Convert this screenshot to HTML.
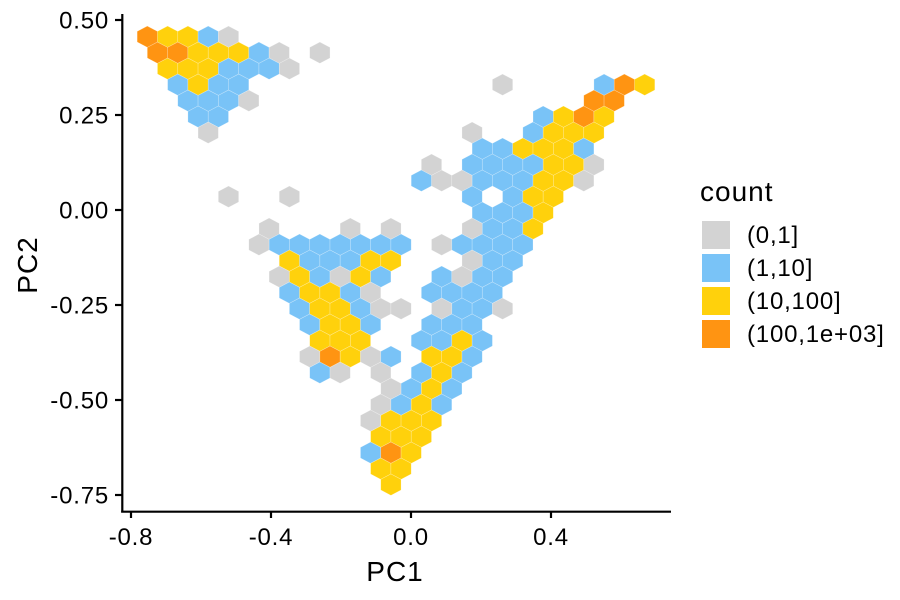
<!DOCTYPE html>
<html><head><meta charset="utf-8"><style>
html,body{margin:0;padding:0;background:#fff;}
svg{display:block;font-family:"Liberation Sans",Arial,sans-serif;}
.tk{letter-spacing:0.8px;}
.tt{letter-spacing:1px;}
</style></head><body>
<svg id="chart" width="900" height="600" viewBox="0 0 900 600">
<g id="hexes"></g>
<g id="axes"></g>
<text class="tt" x="395" y="581" font-size="28" text-anchor="middle" fill="#000">PC1</text>
<text class="tt" x="0" y="0" font-size="28" text-anchor="middle" fill="#000" transform="translate(37,265) rotate(-90)">PC2</text>
<g>
<text class="tt" x="700" y="201" font-size="28" fill="#000">count</text>
<g><rect x="702" y="221" width="28" height="28" fill="#d3d3d3"/><text class="tk" x="747" y="243" font-size="24">(0,1]</text></g>
<g><rect x="702" y="254" width="28" height="28" fill="#79c3f7"/><text class="tk" x="747" y="276" font-size="24">(1,10]</text></g>
<g><rect x="702" y="287" width="28" height="28" fill="#ffd10c"/><text class="tk" x="747" y="309" font-size="24">(10,100]</text></g>
<g><rect x="702" y="320" width="28" height="28" fill="#ff9412"/><text class="tk" x="747" y="342" font-size="24">(100,1e+03]</text></g>
</g>
</svg>
<script>
// hex grid bins: per row, column indices and count bin letters (G=(0,1], B=(1,10], Y=(10,100], O=(100,1e+03])
const hexCols = [
[0,1,2,3,4],[0,1,2,3,4,5,6,8],[1,2,3,4,5,6,7],[1,2,3,4,17,22,23,24],
[2,3,4,5,22,23],[2,3,19,20,21,22],[3,16,19,20,21,22],[16,17,18,19,20,21],
[14,16,17,18,19,20,21,22],[13,14,15,16,17,18,19,20,21],[4,7,16,18,19,20],[16,17,18,19],
[6,10,12,16,17,18,19],[5,6,7,8,9,10,11,12,14,15,16,17,18],[7,8,9,10,11,12,16,17,18],
[6,7,8,9,10,11,14,15,16,17],[7,8,9,10,11,14,15,16,17],[7,8,9,10,11,12,14,15,16,17],
[8,9,10,11,14,15,16],[8,9,10,13,14,15,16],[8,9,10,11,12,14,15,16],[8,9,11,13,14,15],
[12,13,14,15],[11,12,13,14],[11,12,13,14],[11,12,13],[11,12,13],[11,12],[12]
];
const hexBins = [
"OYYBG","OOYYYBGG","YYYBBBG","BYBBGBOY",
"BBBGOO","BBBYOY","GGBYYY","BBYYYB",
"GBBBBYYG","BGGBBBYYG","GGBBYY","BBBY",
"GGGGBBY","GBBBBBBBGBBBB","YBBBYYGBB",
"GYBGYBBGBB","BYYBGBBBB","BYYBGGGBBG",
"BYYBBBB","YYYBBYB","GOYGBYYB","BGGBYB",
"GBYB","GBYB","GYYY","YYY","BOY","YY","Y"
];
const binColors = {G:"#d3d3d3",B:"#79c3f7",Y:"#ffd10c",O:"#ff9412"};
const xTicks = [-0.8,-0.4,0.0,0.4];
const xTickLabels = ["-0.8","-0.4","0.0","0.4"];
const yTicks = [0.5,0.25,0,-0.25,-0.5,-0.75];
const yTickLabels = ["0.50","0.25","0.00","-0.25","-0.50","-0.75"];
// bin grid geometry (data units)
const gridX0 = -0.7534, gridDX = 0.058, gridY0 = 0.456, gridDY = 0.0421;

const xs = v => 411 + v*350;
const ys = v => 210 - v*380;
const NS = "http://www.w3.org/2000/svg";
const hg = document.getElementById('hexes');
const rx = gridDX*350/2, ry = gridDY*380*2/3;
hexCols.forEach((cols, r) => {
  cols.forEach((c, k) => {
    const pc1 = gridX0 + (c + (r % 2) * 0.5) * gridDX;
    const pc2 = gridY0 - r * gridDY;
    const cx = xs(pc1), cy = ys(pc2);
    const pts = [[0,-ry],[rx,-ry/2],[rx,ry/2],[0,ry],[-rx,ry/2],[-rx,-ry/2]]
      .map(p => (cx+p[0]).toFixed(2)+","+(cy+p[1]).toFixed(2)).join(" ");
    const h = document.createElementNS(NS,'polygon');
    h.setAttribute('points', pts);
    h.setAttribute('fill', binColors[hexBins[r][k]]);
    h.setAttribute('stroke', 'rgba(255,255,255,0.35)');
    h.setAttribute('stroke-width', '0.6');
    
    
    hg.appendChild(h);
  });
});
const ag = document.getElementById('axes');
function add(tag, attrs, text){
  const e = document.createElementNS(NS, tag);
  for (const k in attrs) e.setAttribute(k, attrs[k]);
  if (text !== undefined) e.textContent = text;
  ag.appendChild(e); return e;
}
const yl = add('line',{x1:122.3,y1:14,x2:122.3,y2:512.5,stroke:'#000','stroke-width':2.2});


const xl = add('line',{x1:121.2,y1:511.7,x2:671,y2:511.7,stroke:'#000','stroke-width':2.2});


xTicks.forEach((v,i) => {
  const t = add('line',{x1:xs(v),y1:512,x2:xs(v),y2:518,stroke:'#000','stroke-width':2.2});
  
  
  const l = add('text',{x:xs(v),y:545,'font-size':24,'text-anchor':'middle',fill:'#000','class':'tk'}, xTickLabels[i]);
  
  
});
yTicks.forEach((v,i) => {
  const t = add('line',{x1:115,y1:ys(v),x2:122,y2:ys(v),stroke:'#000','stroke-width':2.2});
  
  
  const l = add('text',{x:109,y:ys(v)+8.5,'font-size':24,'text-anchor':'end',fill:'#000','class':'tk'}, yTickLabels[i]);
  
  
});
</script>
</body></html>
